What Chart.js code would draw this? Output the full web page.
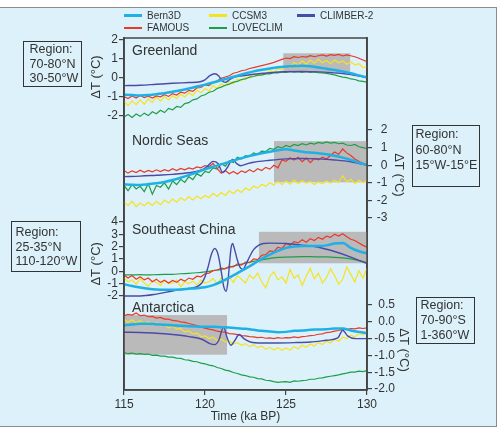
<!DOCTYPE html>
<html>
<head>
<meta charset="utf-8">
<script src="https://cdn.jsdelivr.net/npm/chart.js@4"></script>
<style>
  html, body { margin: 0; padding: 0; background: #fff; }
  #fig { position: relative; width: 498px; height: 427px; overflow: hidden;
         font-family: "Liberation Sans", Arial, sans-serif; color: #333; }
  #panel { position: absolute; left: -1px; top: 7px; width: 498px; height: 420px;
           background: #dcf1f9; border: 1px solid #8c8c8c; box-sizing: border-box; }
  #wrap { position: absolute; left: 0; top: 0; width: 498px; height: 427px; }
  .key { position: absolute; font-size: 10px; line-height: 12px; display: flex; align-items: center; white-space: nowrap; }
  .key i { display: inline-block; width: 18px; height: 2.5px; margin-right: 5px; }
  .region { position: absolute; border: 1.5px solid #333; box-sizing: border-box;
            font-size: 12.5px; line-height: 14.5px; white-space: nowrap; }
  .lbl { position: absolute; font-size: 14px; line-height: 16px; white-space: nowrap; }
</style>
</head>
<body>
<div id="fig">
  <div id="panel"></div>
  <div id="wrap"><canvas id="chart"></canvas></div>

  <div class="key" style="left:124px;top:9.5px"><i style="background:#1fb0e6"></i>Bern3D</div>
  <div class="key" style="left:124px;top:22px"><i style="background:#e8392a"></i>FAMOUS</div>
  <div class="key" style="left:209px;top:9.5px"><i style="background:#f6e31f"></i>CCSM3</div>
  <div class="key" style="left:209px;top:22px"><i style="background:#1e9e48"></i>LOVECLIM</div>
  <div class="key" style="left:297px;top:9.5px"><i style="background:#4b4aa6"></i>CLIMBER-2</div>

  <div class="region" style="left:23px;top:41px;width:59px;height:46px;padding:0 0 0 5.5px">Region:<br>70-80°N<br>30-50°W</div>
  <div class="region" style="left:412px;top:125px;width:68px;height:62px;padding:1px 0 0 2.5px;line-height:15.5px">Region:<br>60-80°N<br>15°W-15°E</div>
  <div class="region" style="left:11px;top:221px;width:70px;height:51px;padding:3px 0 0 3.5px">Region:<br>25-35°N<br>110-120°W</div>
  <div class="region" style="left:416px;top:297px;width:59px;height:47px;padding:0 0 0 3.5px;line-height:15px">Region:<br>70-90°S<br>1-360°W</div>

  <div class="lbl" style="left:132px;top:42px">Greenland</div>
  <div class="lbl" style="left:132px;top:132px">Nordic Seas</div>
  <div class="lbl" style="left:132px;top:221px">Southeast China</div>
  <div class="lbl" style="left:132px;top:299px">Antarctica</div>
</div>

<script>
// 時間軸 (ka BP)
const tQuarter = [
    115, 115.25, 115.5, 115.75, 116, 116.25, 116.5, 116.75,
    117, 117.25, 117.5, 117.75, 118, 118.25, 118.5, 118.75,
    119, 119.25, 119.5, 119.75, 120, 120.25, 120.5, 120.75,
    121, 121.25, 121.5, 121.75, 122, 122.25, 122.5, 122.75,
    123, 123.25, 123.5, 123.75, 124, 124.25, 124.5, 124.75,
    125, 125.25, 125.5, 125.75, 126, 126.25, 126.5, 126.75,
    127, 127.25, 127.5, 127.75, 128, 128.25, 128.5, 128.75,
    129, 129.25, 129.5, 129.75, 130
];
const tHalf = [
    115, 115.5, 116, 116.5, 117, 117.5, 118, 118.5, 119, 119.5,
    120, 120.5, 121, 121.5, 122, 122.5, 123, 123.5, 124, 124.5,
    125, 125.5, 126, 126.5, 127, 127.5, 128, 128.5, 129, 129.5, 130
];

// Greenland
const greenlandFamous = [
    -0.98, -1.08, -0.95, -1.05, -0.92, -1.03, -0.96, -1.06,
    -0.94, -0.99, -0.88, -0.97, -0.82, -0.90, -0.74, -0.80,
    -0.65, -0.70, -0.52, -0.50, -0.36, -0.40, -0.22, -0.15,
    -0.02, 0.05, 0.12, 0.25, 0.30, 0.38, 0.42, 0.50,
    0.55, 0.60, 0.65, 0.70, 0.76, 0.82, 0.90, 0.98,
    1.05, 1.02, 1.12, 1.08, 1.13, 1.10, 1.18, 1.12,
    1.17, 1.22, 1.15, 1.23, 1.19, 1.24, 1.16, 1.22,
    1.17, 1.12, 1.04, 0.95, 0.86
];
const greenlandCcsm = [
    -1.25, -1.45, -1.20, -1.40, -1.15, -1.38, -1.10, -1.30,
    -1.00, -1.22, -0.98, -1.15, -0.92, -1.08, -0.85, -1.00,
    -0.78, -0.92, -0.65, -0.78, -0.55, -0.68, -0.40, -0.55,
    -0.30, -0.42, -0.18, -0.30, -0.05, -0.15, 0.05, 0.00,
    0.18, 0.10, 0.28, 0.20, 0.38, 0.30, 0.50, 0.42,
    0.65, 0.55, 0.82, 0.70, 0.90, 0.72, 0.95, 0.78,
    0.98, 0.80, 0.92, 0.75, 0.95, 0.80, 0.90, 0.72,
    0.85, 0.68, 0.75, 0.55, 0.60
];
const greenlandLove = [
    -2.05, -1.92, -2.08, -1.90, -2.02, -1.85, -1.98, -1.78,
    -1.88, -1.70, -1.82, -1.60, -1.68, -1.50, -1.55, -1.35,
    -1.30, -1.15, -1.10, -0.95, -0.88, -0.75, -0.70, -0.55,
    -0.48, -0.38, -0.32, -0.22, -0.18, -0.08, -0.05, 0.05,
    0.08, 0.15, 0.15, 0.22, 0.22, 0.28, 0.27, 0.32,
    0.30, 0.35, 0.31, 0.34, 0.30, 0.33, 0.30, 0.32,
    0.28, 0.27, 0.24, 0.20, 0.16, 0.10, 0.05, 0.02,
    -0.05, -0.08, -0.15, -0.18, -0.22
];
const greenlandBern = [
    -0.88, -0.90, -0.92, -0.90, -0.85, -0.80, -0.72, -0.64, -0.55, -0.45,
    -0.35, -0.24, -0.12, 0.00, 0.12, 0.24, 0.35, 0.43, 0.50, 0.56,
    0.60, 0.63, 0.65, 0.62, 0.55, 0.49, 0.42, 0.34, 0.25, 0.14, 0.03
];
const greenlandClimberT = [115, 116, 117, 118, 119, 119.7, 120.0, 120.3, 120.6, 120.85, 121.05, 121.25, 121.5,
    121.8, 122.3, 123, 124, 125, 126, 127, 128, 128.5, 129, 129.5, 130];
const greenlandClimber = [-0.40, -0.38, -0.33, -0.28, -0.24, -0.20, -0.10, 0.12, 0.22, 0.10, -0.15, -0.23, -0.10,
    0.05, 0.12, 0.20, 0.28, 0.33, 0.34, 0.32, 0.27, 0.24, 0.18, 0.10, 0.02];

// Nordic Seas
const nordicFamous = [
    -0.30, -0.45, -0.32, -0.42, -0.28, -0.40, -0.30, -0.38,
    -0.26, -0.36, -0.25, -0.33, -0.20, -0.30, -0.18, -0.26,
    -0.15, -0.22, -0.10, -0.15, -0.02, -0.08, 0.10, -0.20,
    -0.45, -0.30, -0.48, -0.35, -0.50, -0.32, -0.42, -0.25,
    -0.38, -0.20, -0.30, -0.12, -0.22, 0.00, -0.15, 0.30,
    0.22, 0.42, 0.30, 0.45, 0.20, 0.40, 0.15, 0.38,
    0.30, 0.45, 0.35, 0.55, 0.75, 0.62, 0.92, 0.70,
    0.55, 0.35, 0.22, 0.10, 0.05
];
const nordicCcsm = [
    -2.10, -2.30, -2.05, -2.35, -2.15, -2.30, -2.10, -2.28,
    -2.05, -2.25, -1.98, -2.15, -1.92, -2.10, -1.85, -2.00,
    -1.80, -1.98, -1.75, -1.90, -1.72, -1.85, -1.60, -1.78,
    -1.55, -1.72, -1.45, -1.62, -1.40, -1.55, -1.30, -1.42,
    -1.18, -1.30, -1.08, -1.20, -1.00, -1.12, -0.92, -1.10,
    -0.90, -1.08, -0.85, -1.05, -0.88, -1.02, -0.92, -1.10,
    -0.95, -1.05, -0.90, -1.02, -0.85, -0.98, -0.60, -0.95,
    -0.80, -1.05, -0.85, -1.00, -0.85
];
const nordicLove = [
    -1.15, -1.45, -1.10, -1.35, -1.20, -1.50, -1.05, -1.65,
    -1.15, -1.25, -1.00, -1.35, -0.90, -1.10, -0.80, -0.98,
    -0.65, -0.82, -0.48, -0.62, -0.35, -0.42, -0.15, -0.22,
    0.10, -0.05, 0.25, 0.15, 0.45, 0.35, 0.55, 0.50,
    0.70, 0.62, 0.80, 0.78, 0.95, 0.90, 1.05, 0.98,
    1.12, 1.05, 1.18, 1.12, 1.22, 1.15, 1.25, 1.20,
    1.30, 1.24, 1.32, 1.26, 1.30, 1.22, 1.25, 1.15,
    1.12, 1.18, 1.05, 1.00, 0.95
];
const nordicBern = [
    -1.09, -1.11, -1.12, -1.08, -1.03, -0.95, -0.84, -0.71, -0.56, -0.40,
    -0.24, -0.09, 0.05, 0.19, 0.33, 0.46, 0.58, 0.68, 0.77, 0.85,
    0.90, 0.84, 0.77, 0.72, 0.68, 0.62, 0.54, 0.43, 0.30, 0.15, 0.01
];
const nordicClimberT = [115, 116, 117, 118, 119, 119.7, 120.1, 120.5, 120.8, 121.1, 121.4, 121.7, 121.95,
    122.2, 122.6, 123, 124, 125, 126, 127, 128, 129, 129.5, 130];
const nordicClimber = [-0.65, -0.62, -0.57, -0.52, -0.43, -0.30, -0.10, 0.22, 0.10, -0.42, -0.10, 0.33, 0.10,
    -0.03, 0.08, 0.17, 0.28, 0.36, 0.38, 0.36, 0.30, 0.20, 0.10, 0.00];

// Southeast China
const seChinaFamous = [
    -0.30, -0.55, -0.35, -0.65, -0.45, -0.70, -0.55, -0.85,
    -0.65, -0.90, -0.72, -0.95, -0.75, -0.90, -0.65, -0.80,
    -0.55, -0.65, -0.40, -0.45, -0.20, -0.15, 0.05, 0.10,
    0.25, 0.20, 0.40, 0.35, 0.60, 0.50, 0.75, 0.70,
    1.00, 0.95, 1.30, 1.35, 1.65, 1.60, 1.95, 1.85,
    2.25, 2.10, 2.40, 2.30, 2.55, 2.35, 2.65, 2.50,
    2.75, 2.60, 2.85, 2.75, 3.00, 2.85, 3.05, 2.80,
    2.60, 2.50, 2.30, 2.10, 1.95
];
const seChinaCcsm = [
    -0.55, -0.85, -0.70, -1.05, -0.60, -0.95, -1.20, -0.80,
    -0.90, -1.15, -0.75, -1.00, -0.95, -0.70, -1.25, -0.85,
    -1.00, -0.80, -1.10, -0.70, -0.95, -0.85, -0.60, -1.00,
    -0.55, -0.80, -0.45, -0.90, -0.35, -0.65, -0.95, -0.30,
    -0.60, -0.15, -0.85, -1.35, -0.40, -0.05, -0.70, -0.45,
    -0.95, 0.15, -0.55, -0.30, -1.15, -0.40, 0.25, -0.60,
    -0.15, -0.95, -0.50, 0.20, -0.35, -1.05, -0.65, 0.35,
    -0.25, -0.85, 0.05, -0.55, 0.25
];
const seChinaLove = [
    -0.30, -0.30, -0.28, -0.30, -0.27, -0.25, -0.25, -0.20, -0.17, -0.12,
    -0.05, 0.05, 0.15, 0.32, 0.50, 0.65, 0.80, 0.93, 1.05, 1.12,
    1.15, 1.17, 1.18, 1.18, 1.17, 1.16, 1.13, 1.08, 1.00, 0.87, 0.70
];
const seChinaBern = [
    -1.05, -1.20, -1.32, -1.42, -1.48, -1.50, -1.50, -1.47, -1.42, -1.37,
    -1.30, -1.12, -0.85, -0.52, -0.15, 0.22, 0.60, 1.00, 1.35, 1.65,
    1.90, 2.00, 2.05, 2.05, 2.05, 2.10, 2.25, 2.30, 1.90, 1.62, 1.45
];
const seChinaClimberT = [115, 116, 117, 118, 119, 119.5, 119.8, 120.0, 120.2, 120.4, 120.6, 120.8, 121.0,
    121.15, 121.3, 121.4, 121.5, 121.6, 121.7, 121.8, 122.0, 122.2, 122.35, 122.5, 122.8, 123.0, 123.3,
    123.6, 124, 125, 126, 127, 128, 129, 130];
const seChinaClimber = [-2.00, -2.00, -1.85, -1.60, -1.40, -1.25, -0.95, -0.45, 0.40, 1.40, 1.85, 1.40, 0.00,
    -1.20, -1.62, -1.00, 0.40, 1.80, 2.25, 1.90, 0.90, 0.25, 0.15, 0.50, 1.30, 1.75, 2.10,
    2.25, 2.28, 2.25, 2.12, 1.95, 1.60, 1.15, 0.62];

// Antarctica
const antarcticaFamous = [
    0.18, 0.22, 0.20, 0.26, 0.18, 0.20, 0.15, 0.16,
    0.11, 0.13, 0.08, 0.08, 0.04, 0.03, 0.00, -0.02,
    -0.05, -0.08, -0.11, -0.16, -0.19, -0.22, -0.24, -0.28,
    -0.30, -0.31, -0.35, -0.36, -0.38, -0.41, -0.42, -0.44,
    -0.45, -0.47, -0.46, -0.49, -0.48, -0.50, -0.47, -0.49,
    -0.47, -0.48, -0.45, -0.47, -0.44, -0.43, -0.41, -0.40,
    -0.37, -0.36, -0.32, -0.31, -0.28, -0.26, -0.22, -0.23,
    -0.20, -0.21, -0.18, -0.20, -0.18
];
const antarcticaCcsm = [
    0.08, -0.02, 0.06, -0.04, 0.03, -0.06, 0.00, -0.10,
    -0.03, -0.12, -0.08, -0.18, -0.13, -0.22, -0.20, -0.30,
    -0.27, -0.36, -0.34, -0.44, -0.42, -0.50, -0.46, -0.56,
    -0.52, -0.60, -0.57, -0.66, -0.62, -0.70, -0.65, -0.74,
    -0.68, -0.77, -0.72, -0.82, -0.76, -0.84, -0.77, -0.85,
    -0.78, -0.84, -0.74, -0.80, -0.70, -0.76, -0.66, -0.72,
    -0.62, -0.68, -0.58, -0.63, -0.52, -0.58, -0.46, -0.50,
    -0.40, -0.45, -0.35, -0.38, -0.30
];
const antarcticaLove = [
    -0.92, -0.95, -0.93, -0.96, -0.95, -0.97, -0.96, -1.00,
    -0.99, -1.02, -1.02, -1.05, -1.05, -1.08, -1.09, -1.13,
    -1.14, -1.18, -1.19, -1.23, -1.25, -1.29, -1.31, -1.36,
    -1.39, -1.44, -1.46, -1.51, -1.54, -1.58, -1.60, -1.64,
    -1.65, -1.69, -1.70, -1.74, -1.75, -1.78, -1.80, -1.79,
    -1.78, -1.80, -1.76, -1.77, -1.75, -1.74, -1.71, -1.71,
    -1.68, -1.67, -1.64, -1.62, -1.60, -1.58, -1.55, -1.53,
    -1.50, -1.50, -1.47, -1.48, -1.45
];
const antarcticaBern = [
    -0.10, -0.08, -0.06, -0.06, -0.07, -0.09, -0.10, -0.12, -0.13, -0.14,
    -0.15, -0.15, -0.16, -0.17, -0.19, -0.21, -0.24, -0.27, -0.29, -0.31,
    -0.30, -0.27, -0.26, -0.24, -0.23, -0.22, -0.20, -0.20, -0.26, -0.30, -0.34
];
const antarcticaClimberT = [115, 116, 117, 118, 119, 119.8, 120.3, 120.6, 120.85, 121.15, 121.35, 121.6, 121.85,
    122.1, 122.4, 122.8, 123.5, 124.5, 125.5, 126.5, 127.5, 128.2, 128.5, 128.8, 129.3, 130];
const antarcticaClimber = [-0.31, -0.32, -0.34, -0.38, -0.44, -0.52, -0.65, -0.68, -0.55, -0.15, -0.45, -0.70, -0.55,
    -0.38, -0.50, -0.60, -0.63, -0.63, -0.62, -0.60, -0.55, -0.48, -0.25, -0.42, -0.50, -0.50];

// 灰色區塊 (Greenland, Nordic Seas, Southeast China, Antarctica)
const shadeAxis = ['yG', 'yN', 'yS', 'yA'];
const shadeStart = [124.83, 124.26, 123.33, 115];
const shadeEnd = [128.96, 130, 130, 121.36];
const shadeTop = [1.3, 1.37, 3.2, 0.2];
const shadeBottom = [0.32, -0.97, 0.65, -0.98];

// 各區刻度
const ticksGreenland = [-2, -1, 0, 1, 2];
const ticksNordic = [-3, -2, -1, 0, 1, 2];
const ticksSeChina = [-2, -1, 0, 1, 2, 3, 4];
const ticksAntarctica = [-2.0, -1.5, -1.0, -0.5, 0.0, 0.5];
const xTicks = [115, 120, 125, 130];

const colors = {
    bern: '#1fb0e6',
    famous: '#e8392a',
    ccsm: '#f6e31f',
    love: '#1e9e48',
    climber: '#4b4aa6'
};

Chart.defaults.font.family = '"Liberation Sans", Arial, sans-serif';
Chart.defaults.color = '#333';

function pts(t, v) {
    return t.map((x, i) => ({ x: x, y: v[i] }));
}

function series(label, data, color, width, axis, smooth) {
    return {
        label: label,
        data: data,
        borderColor: color,
        backgroundColor: color,
        borderWidth: width,
        pointRadius: 0,
        fill: false,
        yAxisID: axis,
        cubicInterpolationMode: smooth ? 'monotone' : 'default',
        tension: 0
    };
}

const panels = [
    { axis: 'yG', bern: greenlandBern, famous: greenlandFamous, ccsm: greenlandCcsm, love: greenlandLove, climberT: greenlandClimberT, climber: greenlandClimber },
    { axis: 'yN', bern: nordicBern, famous: nordicFamous, ccsm: nordicCcsm, love: nordicLove, climberT: nordicClimberT, climber: nordicClimber },
    { axis: 'yS', bern: seChinaBern, famous: seChinaFamous, ccsm: seChinaCcsm, love: seChinaLove, climberT: seChinaClimberT, climber: seChinaClimber },
    { axis: 'yA', bern: antarcticaBern, famous: antarcticaFamous, ccsm: antarcticaCcsm, love: antarcticaLove, climberT: antarcticaClimberT, climber: antarcticaClimber }
];

const datasets = [];
panels.forEach(p => {
    const loveT = p.love.length === tHalf.length ? tHalf : tQuarter;
    datasets.push(series('Bern3D', pts(tHalf, p.bern), colors.bern, 2.5, p.axis, true));
    datasets.push(series('CLIMBER-2', pts(p.climberT, p.climber), colors.climber, 1.4, p.axis, true));
    datasets.push(series('FAMOUS', pts(tQuarter, p.famous), colors.famous, 1.2, p.axis, false));
    datasets.push(series('LOVECLIM', pts(loveT, p.love), colors.love, 1.2, p.axis, loveT === tHalf));
    datasets.push(series('CCSM3', pts(tQuarter, p.ccsm), colors.ccsm, 1.2, p.axis, false));
});

// 每個 y 軸佔滿整個繪圖區，靠 min/max 讓各區落在自己的位置
function yAxis(position, min, max, ticks, weight, width, digits) {
    return {
        type: 'linear',
        position: position,
        min: min,
        max: max,
        weight: weight,
        afterBuildTicks: s => { s.ticks = ticks.map(v => ({ value: v })); },
        afterFit: s => { s.width = width; },
        ticks: {
            autoSkip: false,
            font: { size: 12 },
            color: '#333',
            padding: 1,
            crossAlign: position === 'right' ? 'far' : 'near',
            callback: v => digits ? v.toFixed(digits) : String(v)
        },
        grid: { drawOnChartArea: false, tickLength: 5, color: '#444', lineWidth: 1.2 },
        border: { color: '#444', width: 1.5 }
    };
}

// 重疊的軸：排版後把寬度為 0 的軸撐開，讓刻度文字不被裁掉
const overlapAxes = {
    id: 'overlapAxes',
    afterLayout(chart) {
        const s = chart.scales;
        s.yS.left = s.yG.left;
        s.yS.width = s.yS.right - s.yS.left;
        s.yN.right = s.yN.left + 20.5;
        s.yN.width = 20.5;
        s.yA.right = s.yA.left + 28;
        s.yA.width = 28;
    }
};

// 灰色區塊
const shadePlugin = {
    id: 'shade',
    beforeDatasetsDraw(chart) {
        const { ctx, scales } = chart;
        ctx.save();
        ctx.fillStyle = 'rgb(186,186,186)';
        shadeAxis.forEach((id, i) => {
            const y = scales[id];
            const x0 = scales.x.getPixelForValue(shadeStart[i]);
            const x1 = scales.x.getPixelForValue(shadeEnd[i]);
            const y0 = y.getPixelForValue(shadeTop[i]);
            const y1 = y.getPixelForValue(shadeBottom[i]);
            ctx.fillRect(x0, y0, x1 - x0, y1 - y0);
        });
        ctx.restore();
    }
};

// 外框與 ΔT 軸標題
const framePlugin = {
    id: 'frame',
    afterDatasetsDraw(chart) {
        const { ctx, chartArea: a, scales } = chart;
        ctx.save();
        ctx.strokeStyle = '#444';
        ctx.lineWidth = 1.5;
        ctx.strokeRect(a.left, a.top, a.right - a.left, a.bottom - a.top);

        ctx.fillStyle = '#333';
        ctx.font = '13px "Liberation Sans", Arial, sans-serif';
        ctx.textAlign = 'center';
        ctx.textBaseline = 'middle';
        const titles = [
            { id: 'yG', v: 0.05, dx: -28, rot: -Math.PI / 2 },
            { id: 'yS', v: 0.6, dx: -28, rot: -Math.PI / 2 },
            { id: 'yN', v: -0.55, dx: 32, rot: Math.PI / 2 },
            { id: 'yA', v: -0.84, dx: 37, rot: Math.PI / 2 }
        ];
        titles.forEach(t => {
            const x = t.dx < 0 ? a.left + t.dx : a.right + t.dx;
            const y = scales[t.id].getPixelForValue(t.v);
            ctx.save();
            ctx.translate(x, y);
            ctx.rotate(t.rot);
            ctx.fillText('ΔT (°C)', 0, 0);
            ctx.restore();
        });
        ctx.restore();
    }
};

new Chart(document.getElementById('chart'), {
    type: 'line',
    data: { datasets: datasets },
    plugins: [overlapAxes, shadePlugin, framePlugin],
    options: {
        responsive: true,
        maintainAspectRatio: false,
        animation: false,
        layout: { padding: { top: 38, left: 0, right: 0, bottom: 0 } },
        plugins: { legend: { display: false }, tooltip: { enabled: false } },
        scales: {
            x: {
                type: 'linear',
                position: 'bottom',
                min: 115,
                max: 130,
                afterBuildTicks: s => { s.ticks = xTicks.map(v => ({ value: v })); },
                afterFit: s => { s.height = 37; },
                ticks: { font: { size: 12 }, color: '#333', padding: 2 },
                grid: { drawOnChartArea: false, tickLength: 5, color: '#444', lineWidth: 1.2 },
                border: { color: '#444', width: 1.5 },
                title: { display: true, text: 'Time (ka BP)', color: '#333', font: { size: 12 }, padding: { top: 0, bottom: 3 } }
            },
            yG: yAxis('left', -16.42, 2.105, ticksGreenland, 2, 124, 0),
            yS: yAxis('left', -9.63, 18.92, ticksSeChina, 1, 0, 0),
            yN: yAxis('right', -12.77, 7.227, ticksNordic, 1, 131, 0),
            yA: yAxis('right', -2.03, 8.446, ticksAntarctica, 0, 0, 1)
        }
    }
});
</script>
</body>
</html>
